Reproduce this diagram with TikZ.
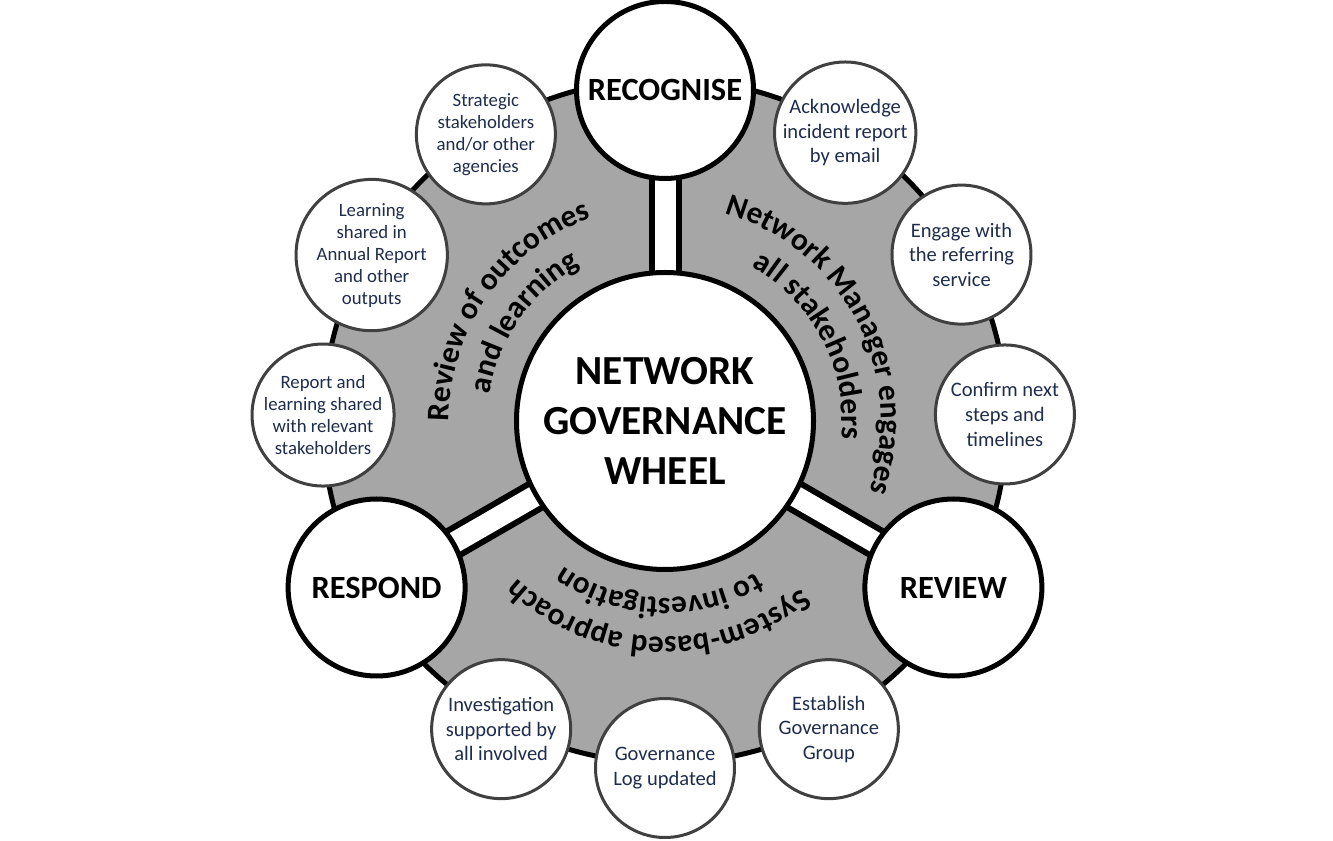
\documentclass[tikz,border=0pt]{standalone}
\usepackage{fontspec}
\setmainfont{Carlito}
\usetikzlibrary{decorations.text,backgrounds}

\definecolor{WheelGrey}{HTML}{A6A6A6}
\definecolor{ActionEdge}{HTML}{404040}
\definecolor{ActionText}{HTML}{1F2D4D}

\newcommand\curvefont{\fontsize{23.5}{28}\selectfont\bfseries}

\tikzstyle{wheel-hub}=[circle, draw=black, fill=white, line width=3.75pt, minimum size=222.75pt, inner sep=0pt, align=center, font=\fontsize{31}{37.5}\selectfont\bfseries]
\tikzstyle{wheel-step}=[circle, draw=black, fill=white, line width=3.75pt, minimum size=132.75pt, inner sep=0pt, font=\fontsize{24.3}{29}\selectfont\bfseries]
\tikzstyle{wheel-action}=[circle, draw=ActionEdge, fill=white, line width=2.25pt, minimum size=104.25pt, inner sep=0pt, align=center, text=ActionText, font=\fontsize{15.4}{18.4}\selectfont]
\tikzstyle{wheel-action-small}=[wheel-action, font=\fontsize{14.1}{16.5}\selectfont]
\tikzstyle{wheel-rim}=[draw=black, fill=WheelGrey, line width=3.75pt]
\tikzstyle{spoke-edge}=[draw=black, line width=24.75pt]
\tikzstyle{spoke-fill}=[draw=white, line width=15.75pt]
\tikzset{curved-label/.style={decorate, decoration={text along path, text align=center, text={|\curvefont|#1}}}}

\begin{document}
\begin{tikzpicture}[x=0.75pt, y=0.75pt]
      \useasboundingbox (-665,-420) rectangle (668,421);

      \node (wheel-hub) at (0,0) [wheel-hub] {NETWORK\\GOVERNANCE\\WHEEL};

      \node (step-recognise) at (90:331) [wheel-step] {RECOGNISE};
      \node (step-respond) at (210:333) [wheel-step] {RESPOND};
      \node (step-review) at (330:333) [wheel-step] {REVIEW};

      \node (action-acknowledge) at (58:340) [wheel-action] {Acknowledge\\incident report\\by email};
      \node (action-engage) at (29.3:340) [wheel-action] {Engage with\\the referring\\service};
      \node (action-confirm) at (1.1:340) [wheel-action] {Confirm next\\steps and\\timelines};

      \node (action-establish) at (298:349) [wheel-action] {Establish\\Governance\\Group};
      \node (action-log) at (270:347) [wheel-action] {Governance\\Log updated};
      \node (action-investigation) at (242:349) [wheel-action] {Investigation\\supported by\\all involved};

      \node (action-report) at (179:342) [wheel-action-small] {Report and\\learning shared\\with relevant\\stakeholders};
      \node (action-learning) at (150.5:337) [wheel-action-small] {Learning\\shared in\\Annual Report\\and other\\outputs};
      \node (action-strategic) at (122:338) [wheel-action-small] {Strategic\\stakeholders\\and/or other\\agencies};

      \begin{pgfonlayer}{background}
        \draw[wheel-rim] (wheel-hub.center) circle[radius=342];
        \foreach \s in {recognise,respond,review}
          \draw[spoke-edge] (wheel-hub.center) -- (step-\s.center);
        \foreach \s in {recognise,respond,review}
          \draw[spoke-fill] (wheel-hub.center) -- (step-\s.center);
      \end{pgfonlayer}

      \path[curved-label={Review of outcomes}] (205:216) arc[start angle=205, end angle=85, radius=216];
      \path[curved-label={and learning}] (205:177) arc[start angle=205, end angle=85, radius=177];

      \path[curved-label={Network Manager engages}] (87.5:216) arc[start angle=87.5, end angle=-32.5, radius=216];
      \path[curved-label={all stakeholders}] (87.5:177) arc[start angle=87.5, end angle=-32.5, radius=177];

      \path[curved-label={System-based approach}] (328:216) arc[start angle=328, end angle=208, radius=216];
      \path[curved-label={to investigation}] (328:177) arc[start angle=328, end angle=208, radius=177];
    \end{tikzpicture}
\end{document}
